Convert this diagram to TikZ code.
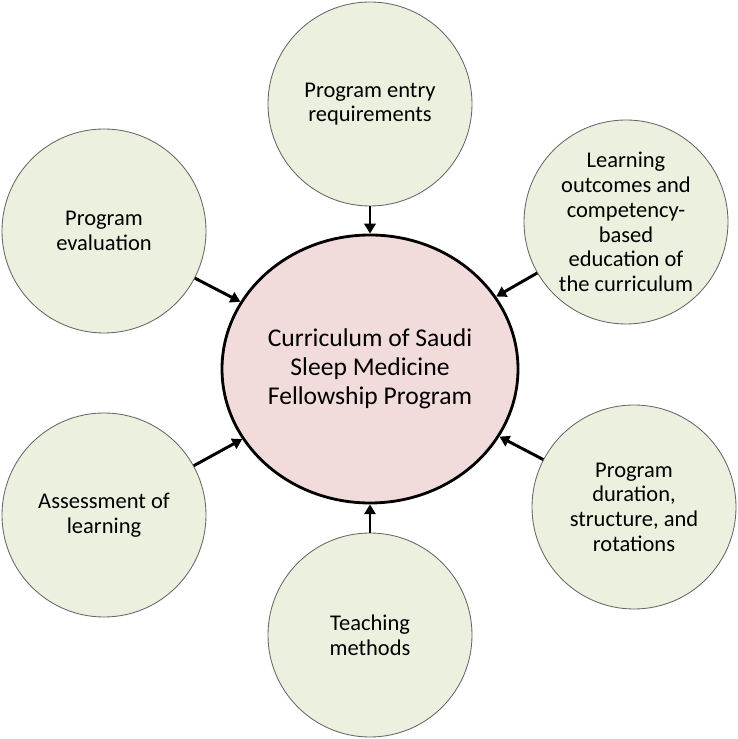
\documentclass[tikz,border=0pt]{standalone}
\usepackage{fontspec}
\setmainfont{Carlito}
\usepackage{xcolor}
\usepackage{tikz}
\usetikzlibrary{arrows.meta,shapes.geometric}

\definecolor{hubpink}{HTML}{F2DCDB}
\definecolor{topicgreen}{HTML}{EBF1DE}

\begin{document}
\begin{tikzpicture}[x=1cm,y=1cm,
  topic/.style={circle,draw=black!60,line width=.6pt,fill=topicgreen,minimum size=5.1cm,inner sep=0pt,align=center,font=\fontsize{16}{17.6}\selectfont},
  hub/.style={ellipse,draw,line width=2pt,fill=hubpink,minimum width=7.4cm,minimum height=6.7cm,inner sep=0pt,align=center,font=\fontsize{18.2}{20.5}\selectfont},
  feeds/.style={-{Triangle[length=7pt,width=8pt]},line width=2.1pt}]
\useasboundingbox (0,0) rectangle (18.45,18.475);
\node[hub] (hub) at (9.25,9.25) {Curriculum of Saudi\\Sleep Medicine\\Fellowship Program};
\node[topic] (entry) at (9.25,15.875) {Program entry\\requirements};
\node[topic] (outcomes) at (15.65,12.925) {Learning\\outcomes and\\competency-\\based\\education of\\the curriculum};
\node[topic] (duration) at (15.85,5.8) {Program\\duration,\\structure, and\\rotations};
\node[topic] (teaching) at (9.25,2.6) {Teaching\\methods};
\node[topic] (assess) at (2.6,5.6) {Assessment of\\learning};
\node[topic] (evaluation) at (2.6,12.7) {Program\\evaluation};
\foreach \t in {entry,outcomes,duration,teaching,assess,evaluation}
  \draw[feeds] (\t) -- (hub);
\end{tikzpicture}
\end{document}
